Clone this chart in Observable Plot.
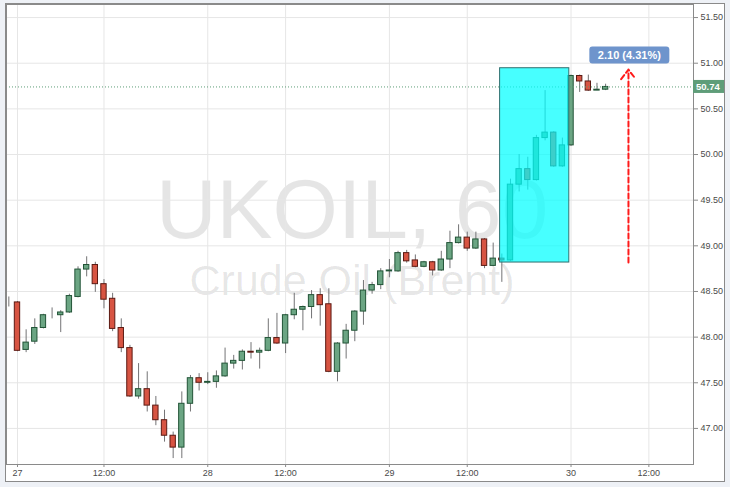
<!DOCTYPE html>
<html>
<head>
<meta charset="utf-8">
<script src="https://cdn.jsdelivr.net/npm/d3@7"></script>
<script src="https://cdn.jsdelivr.net/npm/@observablehq/plot@0.6"></script>
<style>
  html, body { margin: 0; padding: 0; background: #eef1f6; width: 730px; height: 487px; overflow: hidden; }
  #wrap { position: absolute; left: 5px; top: 3px; width: 720px; height: 479px; box-sizing: border-box;
          border: 1px solid #8a8a8a; background: #fff; }
  #wrap svg { display: block; }
</style>
</head>
<body>
<div id="wrap"></div>
<script>
// ---- data (hourly candles, UKOIL 60) ----
const opens  = [48.38,48.38,47.86,47.95,48.10,48.24,48.24,48.27,48.44,48.74,48.79,48.58,48.42,48.10,47.88,47.35,47.43,47.25,47.09,46.92,
                46.79,47.27,47.55,47.50,47.51,47.57,47.71,47.74,47.84,47.83,47.85,47.99,47.93,48.24,48.30,48.33,48.46,48.36,47.62,47.93,
                48.07,48.28,48.51,48.57,48.72,48.72,48.92,48.84,48.77,48.82,48.73,48.85,49.03,49.09,48.97,49.07,48.78,48.86,48.84,49.67,
                49.84,49.72,50.18,50.24,49.87,50.10,50.86,50.80,50.70,50.71];
const highs  = [48.44,48.39,48.08,48.20,48.25,48.32,48.29,48.47,48.77,48.88,48.82,48.63,48.48,48.20,47.91,47.71,47.62,47.35,47.20,46.96,
                47.40,47.58,47.60,47.61,47.63,47.88,47.80,47.86,47.94,47.88,48.20,48.26,48.25,48.48,48.34,48.51,48.53,48.53,47.94,48.14,
                48.29,48.62,48.60,48.75,48.85,48.94,48.95,48.90,48.83,48.83,48.94,49.16,49.23,49.15,49.15,49.08,49.03,48.91,49.73,50.00,
                49.97,50.21,50.70,50.25,50.18,50.87,50.87,50.87,50.78,50.77];
const lows   = [48.33,47.84,47.83,47.92,48.09,48.20,48.05,48.26,48.43,48.66,48.49,48.31,48.06,47.83,47.34,47.32,47.18,47.03,46.85,46.67,
                46.67,47.18,47.41,47.48,47.44,47.56,47.65,47.64,47.76,47.65,47.84,47.92,47.82,48.19,48.07,48.20,48.12,47.61,47.51,47.76,
                47.95,48.13,48.47,48.52,48.65,48.71,48.81,48.76,48.76,48.67,48.72,48.75,49.02,48.94,48.96,48.75,48.77,48.60,48.83,49.59,
                49.61,49.71,50.15,49.86,49.86,50.09,50.68,50.69,50.70,50.70];
const closes = [48.38,47.85,47.94,48.10,48.24,48.24,48.27,48.45,48.74,48.79,48.58,48.41,48.09,47.88,47.35,47.43,47.25,47.09,46.92,46.79,
                47.27,47.55,47.50,47.51,47.57,47.71,47.74,47.84,47.83,47.85,47.99,47.93,48.24,48.30,48.33,48.46,48.35,47.62,47.93,48.07,
                48.28,48.51,48.57,48.72,48.73,48.92,48.83,48.77,48.82,48.73,48.85,49.03,49.09,48.97,49.07,48.78,48.86,48.84,49.67,49.84,
                49.72,50.18,50.24,49.87,50.10,50.86,50.80,50.70,50.71,50.74];

// x-axis ticks (bar index) and labels
const xTickIdx    = [1, 11, 23, 32, 44, 53, 65, 74];
const xTickLabels = ["27", "12:00", "28", "12:00", "29", "12:00", "30", "12:00"];
// y-axis ticks
const yTicks = [47, 47.5, 48, 48.5, 49, 49.5, 50, 50.5, 51, 51.5];

// annotations
const lastPrice  = 50.74;
const boxRange   = {x1: 56.8, x2: 64.8, y1: 48.817, y2: 50.945};
const arrowPts   = {x: 71.64, y1: 48.817, y2: 50.93};
const changeLbl  = {x: 71.8, y: 51.084, text: "2.10 (4.31%)"};
const wmTitle = "UKOIL, 60";
const wmSub   = "Crude Oil (Brent)";

const candles = opens.map((o, i) => ({i, o, h: highs[i], l: lows[i], c: closes[i], up: closes[i] >= o}));
const labelMap = new Map(xTickIdx.map((d, k) => [d, xTickLabels[k]]));

const W = 718, H = 477;
const chart = Plot.plot({
  width: W, height: H,
  marginLeft: 0, marginRight: 31, marginTop: 0, marginBottom: 17,
  style: {fontFamily: "'Liberation Sans', Arial, sans-serif", fontSize: "9px", color: "#4a4a4a", background: "transparent"},
  x: {domain: [-0.27, 79.16], axis: null},
  y: {domain: [46.605, 51.643], axis: null},
  marks: [
    Plot.text([wmTitle], {text: d => d, frameAnchor: "middle", dx: 2, dy: -23, fontSize: 84, fill: "#000", fillOpacity: 0.1}),
    Plot.text([wmSub], {text: d => d, frameAnchor: "middle", dx: 2, dy: 47, fontSize: 43, fill: "#000", fillOpacity: 0.1}),
    Plot.gridX(xTickIdx, {stroke: "#e6e6e6", strokeOpacity: 1}),
    Plot.gridY(yTicks, {stroke: "#e6e6e6", strokeOpacity: 1}),
    Plot.ruleX(candles, {x: "i", y1: "l", y2: "h", stroke: "#737375", strokeWidth: 1}),
    Plot.rect(candles, {
      x1: d => d.i - 0.31, x2: d => d.i + 0.31, y1: "o", y2: "c",
      fill: d => d.up ? "#6ba583" : "#d75442",
      stroke: d => d.up ? "#225437" : "#5b1a13", strokeWidth: 1
    }),
    Plot.ruleY([lastPrice], {stroke: "#5e9e78", strokeDasharray: "1,2", strokeWidth: 1}),
    Plot.rect([boxRange], {x1: "x1", x2: "x2", y1: "y1", y2: "y2", fill: "#00ffff", fillOpacity: 0.72, stroke: "#2f6f6f", strokeWidth: 1}),
    Plot.arrow([arrowPts], {x1: "x", x2: "x", y1: "y1", y2: "y2", bend: 0, stroke: "#ff1a1a", strokeWidth: 2,
      strokeDasharray: "5,3", headLength: 9, headAngle: 75}),
    Plot.frame({stroke: "#8a8a8a"}),
    Plot.axisY(yTicks, {anchor: "right", tickSize: 4, tickPadding: 3, tickFormat: d => d.toFixed(2), stroke: "#8a8a8a"}),
    Plot.axisX(xTickIdx, {anchor: "bottom", tickSize: 3, tickPadding: 2, tickFormat: d => labelMap.get(d), stroke: "#8a8a8a",
      fontWeight: d => d === xTickIdx[0] ? "bold" : "normal"})
  ]
});

document.getElementById("wrap").appendChild(chart);

// price tag on the right axis and change label, positioned through the plot's scales
const sx = chart.scale("x"), sy = chart.scale("y");
const svg = d3.select(chart);
const py = sy.apply(lastPrice);
const xr = W - 31;
const tag = svg.append("g").attr("text-anchor", "start");
tag.append("rect").attr("x", xr).attr("y", py - 6.5).attr("width", 31).attr("height", 13).attr("fill", "#5f9d79");
tag.append("text").attr("x", xr + 3).attr("y", py).attr("dy", "0.35em").attr("fill", "#fff").attr("text-anchor", "start")
  .attr("font-size", 9.5).attr("font-family", "'Liberation Sans', Arial, sans-serif").attr("font-weight", "bold").text(lastPrice.toFixed(2));

const lx = sx.apply(changeLbl.x), ly = sy.apply(changeLbl.y);
const lg = svg.append("g");
lg.append("rect").attr("x", lx - 40).attr("y", ly - 8.5).attr("width", 80).attr("height", 17).attr("rx", 3)
  .attr("fill", "#6e94cc");
lg.append("text").attr("x", lx).attr("y", ly).attr("dy", "0.35em").attr("text-anchor", "middle").attr("fill", "#fff")
  .attr("font-size", 11).attr("font-weight", 600).attr("font-family", "'Liberation Sans', Arial, sans-serif").text(changeLbl.text);
</script>
</body>
</html>
